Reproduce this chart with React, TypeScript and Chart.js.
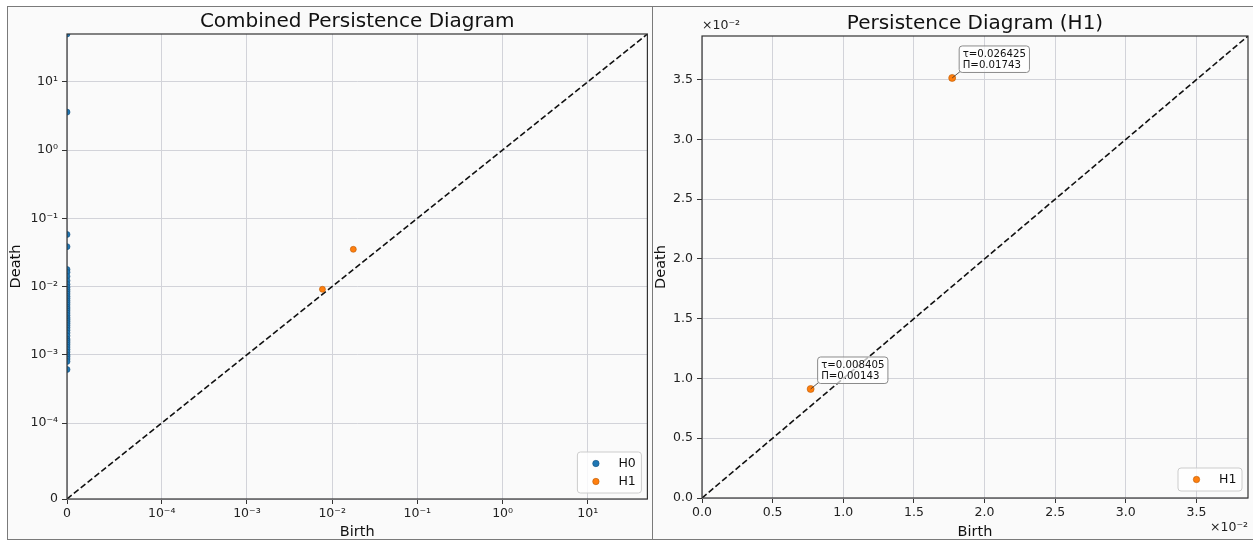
import React, { useEffect, useRef } from 'react';
import { Chart, registerables, LinearScale } from 'chart.js';

Chart.register(...registerables);

// ---------------- data ----------------
const H0_BIRTH = [
  0, 0, 0, 0, 0, 0, 0, 0, 0, 0, 0, 0, 0, 0, 0, 0, 0, 0, 0, 0, 0, 0,
  0, 0, 0, 0, 0, 0, 0, 0, 0, 0, 0, 0, 0, 0, 0, 0, 0, 0, 0, 0, 0, 0,
];
const H0_DEATH = [
  50, 3.59, 0.058, 0.0384, 0.0178, 0.0162, 0.0141, 0.0122, 0.0108, 0.0098, 0.009,
  0.0084, 0.0078, 0.0072, 0.0067, 0.0062, 0.0058, 0.0054, 0.005, 0.0047, 0.0044,
  0.0041, 0.0038, 0.0035, 0.0033, 0.0031, 0.0029, 0.0027, 0.0025, 0.0023, 0.0021,
  0.0019, 0.0017, 0.0016, 0.0015, 0.0014, 0.0013, 0.0012, 0.0011, 0.001, 0.00094,
  0.00087, 0.0008, 0.00061,
];
const H1_BIRTH = [0.00769, 0.01771];
const H1_DEATH = [0.00912, 0.03514];
const H1_TAU = ['0.008405', '0.026425'];
const H1_PI = ['0.00143', '0.01743'];

const LEFT_LIMIT = 50;
const RIGHT_LIMIT = 0.03865;

const LEFT_TICKS = [0, 1e-4, 1e-3, 1e-2, 1e-1, 1, 10];
const LEFT_TICK_LABELS = ['0', '10⁻⁴', '10⁻³', '10⁻²', '10⁻¹', '10⁰', '10¹'];
const RIGHT_TICKS = [0, 0.005, 0.01, 0.015, 0.02, 0.025, 0.03, 0.035];
const RIGHT_TICK_LABELS = ['0.0', '0.5', '1.0', '1.5', '2.0', '2.5', '3.0', '3.5'];

const LEFT_TITLE = 'Combined Persistence Diagram';
const RIGHT_TITLE = 'Persistence Diagram (H1)';
const OFFSET_TEXT = '×10⁻²';

// ---------------- style ----------------
const FONT = "'DejaVu Sans', sans-serif";
const BLUE = '#1f77b4';
const BLUE_EDGE = '#134f7d';
const ORANGE = '#ff7f0e';
const ORANGE_EDGE = '#b85a06';
const GRID = '#d2d3d9';
const BG = '#fafafa';

Chart.defaults.font.family = FONT;

// ---------------- symlog scale (matplotlib style, base 10) ----------------
const LINTHRESH = 1e-4;
const LINSCALE_ADJ = 1 / (1 - 1 / 10);
const symlog = (v: number) => {
  const a = Math.abs(v);
  const s = v < 0 ? -1 : 1;
  return a <= LINTHRESH ? (s * a * LINSCALE_ADJ) / LINTHRESH : s * (LINSCALE_ADJ + Math.log10(a / LINTHRESH));
};
const invSymlog = (t: number) => {
  const a = Math.abs(t);
  const s = t < 0 ? -1 : 1;
  return a <= LINSCALE_ADJ ? (s * a * LINTHRESH) / LINSCALE_ADJ : s * LINTHRESH * Math.pow(10, a - LINSCALE_ADJ);
};

class SymlogScale extends (LinearScale as any) {
  static id = 'symlog';
  getPixelForValue(value: any) {
    if (value === null || value === undefined || isNaN(value)) return NaN;
    const t0 = symlog(this.min);
    const t1 = symlog(this.max);
    return this.getPixelForDecimal((symlog(value) - t0) / (t1 - t0));
  }
  getValueForPixel(pixel: number) {
    const t0 = symlog(this.min);
    const t1 = symlog(this.max);
    return invSymlog(t0 + this.getDecimalForPixel(pixel) * (t1 - t0));
  }
}
Chart.register(SymlogScale as any);

// ---------------- helpers ----------------
function axis(type: string, max: number, ticks: number[], labels: string[], title: string, fit: number, horizontal: boolean) {
  return {
    type,
    min: 0,
    max,
    bounds: 'data',
    afterBuildTicks: (s: any) => {
      s.ticks = ticks.map((v) => ({ value: v }));
    },
    afterFit: (s: any) => {
      if (horizontal) s.height = fit;
      else s.width = fit;
    },
    grid: { color: GRID, lineWidth: 1, drawTicks: true, tickLength: 5, tickColor: '#333', tickWidth: 1 },
    border: { display: false },
    ticks: {
      autoSkip: false,
      maxRotation: 0,
      minRotation: 0,
      padding: horizontal ? 2.5 : 4,
      color: '#222',
      font: { size: 12.5 },
      callback: (_v: any, i: number) => labels[i],
    },
    title: {
      display: true,
      text: title,
      color: '#111',
      font: { size: 14.5 },
      padding: horizontal ? { top: 0, bottom: -1.5 } : 0,
    },
  };
}

function roundRect(ctx: CanvasRenderingContext2D, x: number, y: number, w: number, h: number, r: number) {
  ctx.beginPath();
  ctx.moveTo(x + r, y);
  ctx.lineTo(x + w - r, y);
  ctx.arcTo(x + w, y, x + w, y + r, r);
  ctx.lineTo(x + w, y + h - r);
  ctx.arcTo(x + w, y + h, x + w - r, y + h, r);
  ctx.lineTo(x + r, y + h);
  ctx.arcTo(x, y + h, x, y + h - r, r);
  ctx.lineTo(x, y + r);
  ctx.arcTo(x, y, x + r, y, r);
  ctx.closePath();
}

type LegendItem = { label: string; fill: string; edge: string };
type Decor = { title: string; legend: LegendItem[]; annotate: boolean; offsetText: boolean; legendGap: number };

function decorPlugin(d: Decor) {
  return {
    id: 'decor',
    afterDatasetsDraw(chart: any) {
      const { ctx, chartArea: a } = chart;
      ctx.save();
      // frame (spines)
      ctx.strokeStyle = '#333';
      ctx.lineWidth = 1.2;
      ctx.strokeRect(a.left, a.top, a.right - a.left, a.bottom - a.top);

      // annotations
      if (d.annotate) {
        const xs = chart.scales.x;
        const ys = chart.scales.y;
        ctx.font = `10.2px ${FONT}`;
        for (let i = 0; i < H1_BIRTH.length; i++) {
          const px = xs.getPixelForValue(H1_BIRTH[i]);
          const py = ys.getPixelForValue(H1_DEATH[i]);
          const l1 = `τ=${H1_TAU[i]}`;
          const l2 = `Π=${H1_PI[i]}`;
          const w = Math.max(ctx.measureText(l1).width, ctx.measureText(l2).width) + 7;
          const h = 26.5;
          const bx = px + 7;
          const by = py - 32;
          ctx.strokeStyle = '#333';
          ctx.lineWidth = 0.8;
          ctx.beginPath();
          ctx.moveTo(px, py);
          ctx.lineTo(bx + 1, by + h - 1);
          ctx.stroke();
          roundRect(ctx, bx, by, w, h, 3);
          ctx.fillStyle = 'rgba(255,255,255,0.72)';
          ctx.fill();
          ctx.strokeStyle = '#8a8a8a';
          ctx.lineWidth = 1;
          ctx.stroke();
          ctx.fillStyle = '#111';
          ctx.textAlign = 'left';
          ctx.textBaseline = 'middle';
          ctx.fillText(l1, bx + 3.5, by + 8);
          ctx.fillText(l2, bx + 3.5, by + 19);
        }
      }

      // legend
      const rows = d.legend.length;
      const lw = 64;
      const lh = 5 + 18 * rows;
      const lx = a.right - 6 - lw;
      const ly = a.bottom - d.legendGap - lh;
      roundRect(ctx, lx, ly, lw, lh, 3);
      ctx.fillStyle = 'rgba(255,255,255,0.8)';
      ctx.fill();
      ctx.strokeStyle = '#cccccc';
      ctx.lineWidth = 1;
      ctx.stroke();
      ctx.font = `12.5px ${FONT}`;
      ctx.textAlign = 'left';
      ctx.textBaseline = 'middle';
      d.legend.forEach((it, i) => {
        const cy = ly + 11.5 + 18 * i;
        ctx.beginPath();
        ctx.arc(lx + 18.5, cy, 3.2, 0, Math.PI * 2);
        ctx.fillStyle = it.fill;
        ctx.fill();
        ctx.strokeStyle = it.edge;
        ctx.lineWidth = 0.6;
        ctx.stroke();
        ctx.fillStyle = '#111';
        ctx.fillText(it.label, lx + 41, cy + 0.5);
      });

      // title
      ctx.fillStyle = '#111';
      ctx.font = `20px ${FONT}`;
      ctx.textAlign = 'center';
      ctx.textBaseline = 'alphabetic';
      ctx.fillText(d.title, (a.left + a.right) / 2, a.top - 7.5);

      // offset text
      if (d.offsetText) {
        ctx.font = `12.5px ${FONT}`;
        ctx.fillStyle = '#222';
        ctx.textBaseline = 'middle';
        ctx.textAlign = 'left';
        ctx.fillText(OFFSET_TEXT, a.left, a.top - 10);
        ctx.textAlign = 'right';
        ctx.fillText(OFFSET_TEXT, a.right, a.bottom + 30);
      }
      ctx.restore();
    },
  };
}

function diagDataset(limit: number) {
  return {
    label: 'diag',
    data: [
      { x: 0, y: 0 },
      { x: limit, y: limit },
    ],
    showLine: true,
    borderColor: '#111',
    borderWidth: 1.6,
    borderDash: [6, 2.8],
    pointRadius: 0,
    order: 2,
  };
}

function leftConfig(): any {
  return {
    type: 'scatter',
    data: {
      datasets: [
        diagDataset(LEFT_LIMIT),
        {
          label: 'H0',
          data: H0_BIRTH.map((b, i) => ({ x: b, y: H0_DEATH[i] })),
          pointRadius: 3,
          pointBackgroundColor: BLUE,
          pointBorderColor: BLUE_EDGE,
          pointBorderWidth: 0.6,
          clip: 0,
          order: 1,
        },
        {
          label: 'H1',
          data: H1_BIRTH.map((b, i) => ({ x: b, y: H1_DEATH[i] })),
          pointRadius: 3,
          pointBackgroundColor: ORANGE,
          pointBorderColor: ORANGE_EDGE,
          pointBorderWidth: 0.6,
          clip: 0,
          order: 0,
        },
      ],
    },
    options: {
      responsive: false,
      animation: false,
      events: [],
      layout: { padding: { left: 0, top: 27, right: 4, bottom: 0 } },
      plugins: { legend: { display: false }, tooltip: { enabled: false }, title: { display: false } },
      scales: {
        x: axis('symlog', LEFT_LIMIT, LEFT_TICKS, LEFT_TICK_LABELS, 'Birth', 40, true),
        y: axis('symlog', LEFT_LIMIT, LEFT_TICKS, LEFT_TICK_LABELS, 'Death', 59, false),
      },
    },
    plugins: [
      decorPlugin({
        title: LEFT_TITLE,
        legend: [
          { label: 'H0', fill: BLUE, edge: BLUE_EDGE },
          { label: 'H1', fill: ORANGE, edge: ORANGE_EDGE },
        ],
        annotate: false,
        offsetText: false,
        legendGap: 6,
      }),
    ],
  };
}

function rightConfig(): any {
  return {
    type: 'scatter',
    data: {
      datasets: [
        diagDataset(RIGHT_LIMIT),
        {
          label: 'H1',
          data: H1_BIRTH.map((b, i) => ({ x: b, y: H1_DEATH[i] })),
          pointRadius: 3.5,
          pointBackgroundColor: ORANGE,
          pointBorderColor: ORANGE_EDGE,
          pointBorderWidth: 0.6,
          clip: 0,
          order: 0,
        },
      ],
    },
    options: {
      responsive: false,
      animation: false,
      events: [],
      layout: { padding: { left: 0, top: 29, right: 5, bottom: 0 } },
      plugins: { legend: { display: false }, tooltip: { enabled: false }, title: { display: false } },
      scales: {
        x: axis('linear', RIGHT_LIMIT, RIGHT_TICKS, RIGHT_TICK_LABELS, 'Birth', 41, true),
        y: axis('linear', RIGHT_LIMIT, RIGHT_TICKS, RIGHT_TICK_LABELS, 'Death', 49, false),
      },
    },
    plugins: [
      decorPlugin({
        title: RIGHT_TITLE,
        legend: [{ label: 'H1', fill: ORANGE, edge: ORANGE_EDGE }],
        annotate: true,
        offsetText: true,
        legendGap: 7,
      }),
    ],
  };
}

export default function App() {
  const leftRef = useRef<HTMLCanvasElement>(null);
  const rightRef = useRef<HTMLCanvasElement>(null);

  useEffect(() => {
    const c1 = new Chart(leftRef.current as HTMLCanvasElement, leftConfig());
    const c2 = new Chart(rightRef.current as HTMLCanvasElement, rightConfig());
    return () => {
      c1.destroy();
      c2.destroy();
    };
  }, []);

  return (
    <div style={{ position: 'absolute', left: 0, top: 0, width: 1253, height: 540, background: '#fff', overflow: 'hidden' }}>
      <div
        style={{
          position: 'absolute',
          left: 7,
          top: 6,
          width: 646,
          height: 534,
          boxSizing: 'border-box',
          border: '1px solid #7a7a7a',
          background: BG,
        }}
      >
        <canvas ref={leftRef} width={644} height={532} style={{ display: 'block', width: 644, height: 532 }} />
      </div>
      <div
        style={{
          position: 'absolute',
          left: 652,
          top: 6,
          width: 603,
          height: 534,
          boxSizing: 'border-box',
          border: '1px solid #7a7a7a',
          background: BG,
        }}
      >
        <canvas ref={rightRef} width={600} height={532} style={{ display: 'block', width: 600, height: 532 }} />
      </div>
    </div>
  );
}
